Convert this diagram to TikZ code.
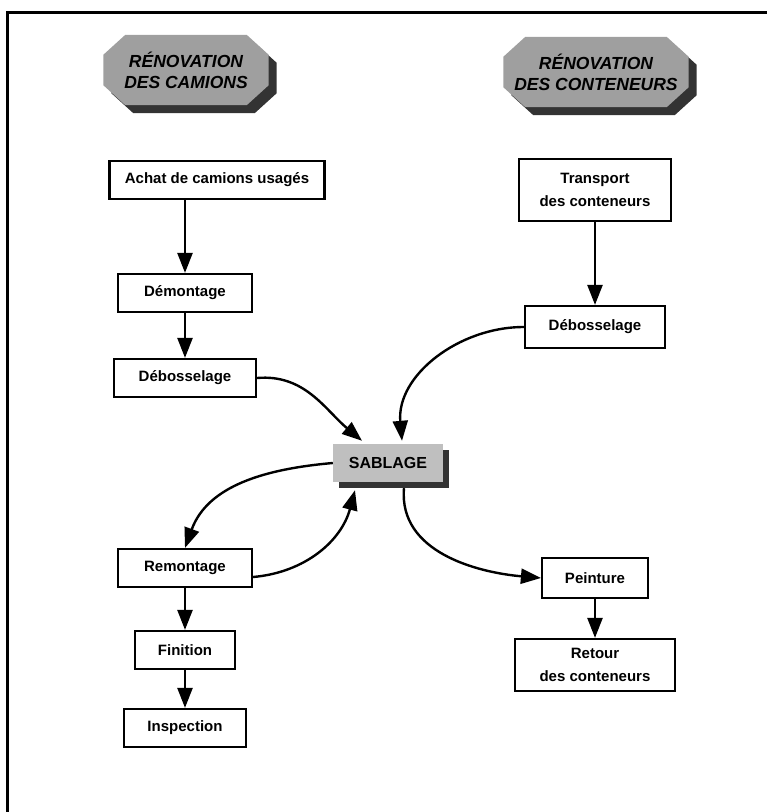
\documentclass[tikz,border=0pt]{standalone}
\usepackage{fontspec}
\setmainfont{Liberation Sans}
\usetikzlibrary{arrows.meta,backgrounds}

% octagonal heading plate built on the corners of node #1, shifted by #3
\newcommand{\plate}[3]{%
  \fill[#2] ([shift={(22+#3,#3)}]#1.north west) -- ([shift={(-22+#3,#3)}]#1.north east)
    -- ([shift={(#3,20+#3)}]#1.north east) -- ([shift={(#3,-20+#3)}]#1.south east)
    -- ([shift={(-22+#3,#3)}]#1.south east) -- ([shift={(22+#3,#3)}]#1.south west)
    -- ([shift={(#3,-20+#3)}]#1.south west) -- ([shift={(#3,20+#3)}]#1.north west) -- cycle;}

\begin{document}
\begin{tikzpicture}[x=1pt,y=-1pt,
  stepbox/.style={draw, line width=2.2pt, fill=white, align=center,
    font=\fontsize{15}{23}\selectfont\bfseries,
    minimum height=38pt, inner xsep=0pt, inner ysep=7pt},
  heading/.style={align=center, minimum height=70pt, inner sep=0pt,
    font=\fontsize{17.5}{21}\selectfont\bfseries\itshape},
  sandbox/.style={fill=gray!50, minimum width=110pt, minimum height=38pt,
    font=\fontsize{16}{20}\selectfont\bfseries},
  flow/.style={line width=2.4pt, -{Triangle[length=20pt,width=15pt]}}
]
\useasboundingbox (0,0) rectangle (767,812);

% outer frame (top and left edges)
\draw[line width=3pt] (7,812) -- (7,12) -- (767,12);

% section headings
\node[heading, minimum width=165pt] (hcam) at (186,70) {RÉNOVATION\\DES CAMIONS};
\node[heading, minimum width=185pt] (hcon) at (596,72) {RÉNOVATION\\DES CONTENEURS};
\begin{scope}[on background layer]
  \plate{hcam}{black!80}{8}
  \plate{hcam}{gray!75}{0}
  \plate{hcon}{black!80}{8}
  \plate{hcon}{gray!75}{0}
\end{scope}

% truck branch
\node[stepbox, minimum width=215pt] (achat) at (217,180) {Achat de camions usagés};
\node[stepbox, minimum width=134pt] (demont) at (185,293) {Démontage};
\node[stepbox, minimum width=142pt] (debL) at (185,378) {Débosselage};
\node[stepbox, minimum width=134pt] (remont) at (185,568) {Remontage};
\node[stepbox, minimum width=100pt] (finit) at (185,650) {Finition};
\node[stepbox, minimum width=122pt] (insp) at (185,728) {Inspection};

% container branch
\node[stepbox, minimum width=152pt, minimum height=62pt] (transp) at (595,190)
  {Transport\\des conteneurs};
\node[stepbox, minimum width=140pt, minimum height=42pt] (debR) at (595,327) {Débosselage};
\node[stepbox, minimum width=106pt, minimum height=40pt] (peint) at (595,578) {Peinture};
\node[stepbox, minimum width=160pt, minimum height=52pt] (retour) at (595,665)
  {Retour\\des conteneurs};

% shared step, with its offset shadow
\node[sandbox] (sab) at (388,463) {SABLAGE};
\begin{scope}[on background layer]
  \fill[black!80] ([shift={(6,6)}]sab.north west) rectangle ([shift={(6,6)}]sab.south east);
\end{scope}

% straight links
\draw[flow] (achat.south -| demont.north) -- (demont.north);
\draw[flow] (demont.south) -- (debL.north);
\draw[flow] (remont.south) -- (finit.north);
\draw[flow] (finit.south) -- (insp.north);
\draw[flow] (transp.south) -- (debR.north);
\draw[flow] (peint.south) -- (retour.north);

% curved links around the sandblasting step
\draw[flow] (debL.east) to[out=5,in=140] ([xshift=-26pt,yshift=3pt]sab.north);
\draw[flow] (debR.west) to[out=180,in=95] ([xshift=14pt,yshift=3pt]sab.north);
\draw[flow] (sab.west) to[out=185,in=70] (remont.north);
\draw[flow] ([yshift=-9pt]remont.east) to[out=5,in=-105] ([xshift=-33pt,yshift=-8pt]sab.south);
\draw[flow] ([xshift=16pt,yshift=-6pt]sab.south) to[out=-95,in=175] (peint.west);
\end{tikzpicture}
\end{document}
